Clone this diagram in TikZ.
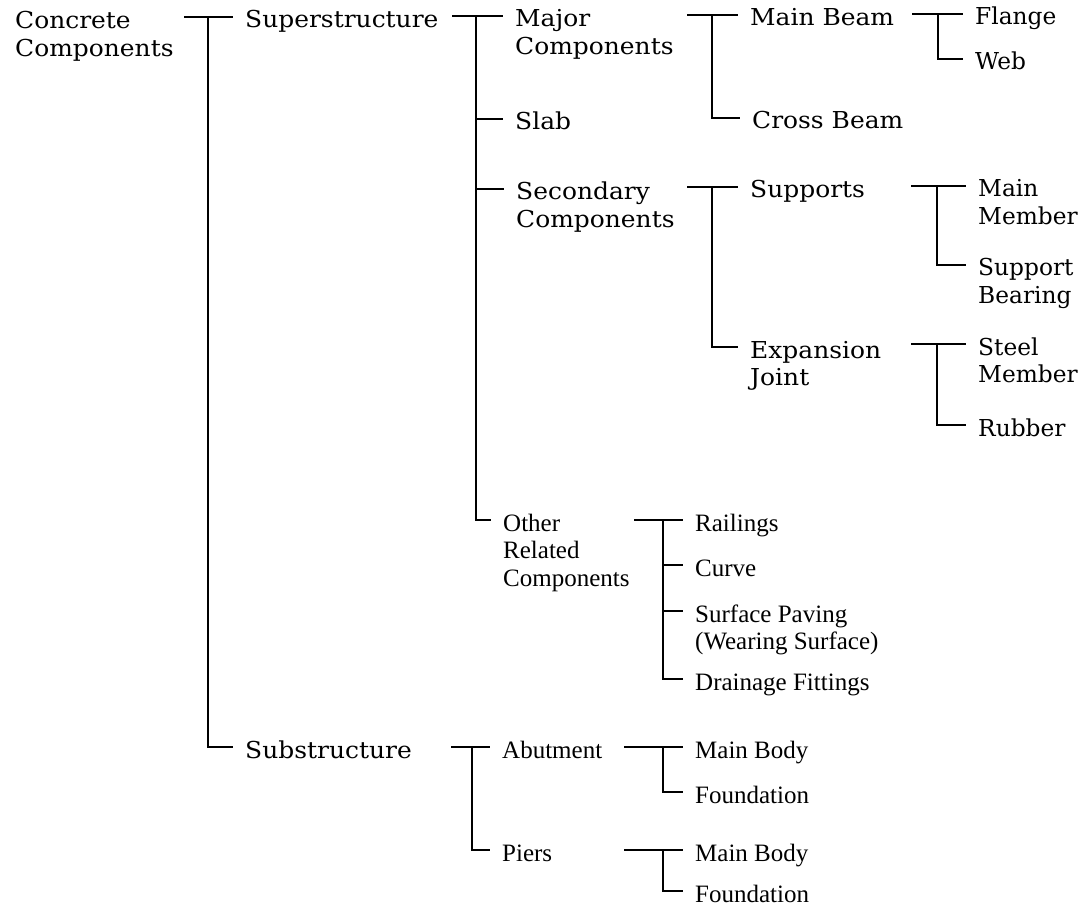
\documentclass[tikz,border=0pt]{standalone}
\usepackage{fontspec}
\setmainfont{DejaVu Serif}
\newfontfamily\upfont[FakeStretch=1.07]{DejaVu Serif}
\newfontfamily\rcfont{DejaVu Serif}
\newfontfamily\lowfont{Liberation Serif}
\usetikzlibrary{calc}
\newcommand\stackl[1]{\vtop{\baselineskip=27.5pt\halign{##\hfil\cr#1\crcr}}}
% #1 start x, #2 bus x, #3 first child, #4 last child
\newcommand\fan[4]{%
  \draw[conn] (i#3 -| #1,0) -- (i#3);
  \draw[conn] (i#3 -| #2,0) |- (i#4);}
\newcommand\midbranch[2]{\draw[conn] (i#2 -| #1,0) -- (i#2);}
\begin{document}
\begin{tikzpicture}[x=1pt,y=-1pt,
  lbl/.style={anchor=base west, inner sep=0pt},
  up/.style={lbl, font=\upfont\fontsize{23.3}{27.5}\selectfont},
  rc/.style={lbl, font=\rcfont\fontsize{23.3}{27.5}\selectfont},
  low/.style={lbl, font=\lowfont\fontsize{25}{27.5}\selectfont},
  conn/.style={line width=2pt, line cap=rect}]
\useasboundingbox (0,0) rectangle (1089,909);
\node[up] (conc) at (15,29) {\stackl{Concrete\cr Components}};
\node[up] (sup) at (245,28) {Superstructure};
\node[up] (maj) at (515,27) {\stackl{Major\cr Components}};
\node[up] (slab) at (515,130) {Slab};
\node[up] (sec) at (516,200) {\stackl{Secondary\cr Components}};
\node[low] (oth) at (503,531) {\stackl{Other\cr Related\cr Components}};
\node[up] (mb) at (750,26) {Main Beam};
\node[up] (cb) at (752,129) {Cross Beam};
\node[rc] (fl) at (975,25) {Flange};
\node[rc] (web) at (975,70) {Web};
\node[up] (spt) at (750,198) {Supports};
\node[up] (exp) at (750,358) {\stackl{Expansion\cr Joint}};
\node[rc] (mm) at (978,197) {\stackl{Main\cr Member}};
\node[rc] (sb) at (978,276) {\stackl{Support\cr Bearing}};
\node[rc] (sm) at (978,355) {\stackl{Steel\cr Member}};
\node[rc] (rub) at (978,436) {Rubber};
\node[low] (rail) at (695,531) {Railings};
\node[low] (curve) at (695,576) {Curve};
\node[low] (surf) at (695,622) {\stackl{Surface Paving\cr (Wearing Surface)}};
\node[low] (drain) at (695,690) {Drainage Fittings};
\node[up] (subs) at (245,758) {Substructure};
\node[low] (abut) at (502,758) {Abutment};
\node[low] (piers) at (502,861) {Piers};
\node[low] (mba) at (695,758) {Main Body};
\node[low] (fa) at (695,803) {Foundation};
\node[low] (mbp) at (695,861) {Main Body};
\node[low] (fp) at (695,902) {Foundation};
\foreach \n in {sup,maj,slab,sec,oth,mb,cb,fl,web,spt,exp,mm,sb,sm,rub,rail,curve,surf,drain,subs,abut,piers,mba,fa,mbp,fp}
  \coordinate (i\n) at ($(\n.base west)+(-13,-11)$);
\fan{185}{208}{sup}{subs}
\fan{453}{476}{maj}{oth}
\midbranch{476}{slab}
\midbranch{476}{sec}
\fan{688}{712}{mb}{cb}
\fan{913}{938}{fl}{web}
\fan{688}{712}{spt}{exp}
\fan{912}{937}{mm}{sb}
\fan{912}{937}{sm}{rub}
\fan{635}{663}{rail}{drain}
\midbranch{663}{curve}
\midbranch{663}{surf}
\fan{452}{472}{abut}{piers}
\fan{625}{663}{mba}{fa}
\fan{625}{663}{mbp}{fp}
\end{tikzpicture}
\end{document}
